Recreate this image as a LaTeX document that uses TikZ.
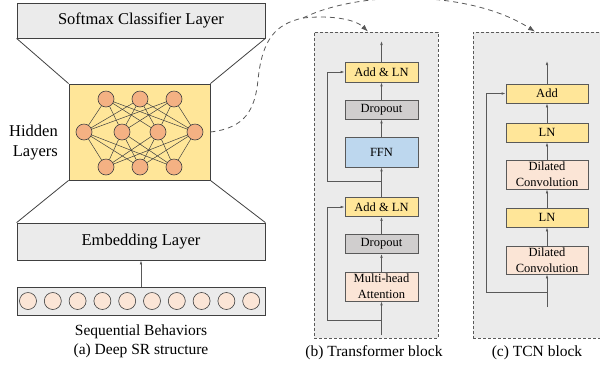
\documentclass[tikz,border=0pt]{standalone}
\usepackage{fontspec}
\setmainfont{Liberation Serif}
\usetikzlibrary{arrows.meta}

\definecolor{boxline}{HTML}{404040}
\definecolor{flowgray}{HTML}{595959}
\definecolor{layergray}{HTML}{EBEBEB}
\definecolor{hiddenyellow}{HTML}{FFE699}
\definecolor{neuronfill}{HTML}{F4B183}
\definecolor{peach}{HTML}{FBE5D6}
\definecolor{dropgray}{HTML}{D0CECE}
\definecolor{ffnblue}{HTML}{BDD7EE}

\begin{document}
\begin{tikzpicture}[x=1pt,y=1pt,yscale=-1,
  layerbox/.style={draw=boxline,fill=layergray,line width=0.8pt,inner sep=0pt,minimum width=248,font=\fontsize{16.5}{18}\selectfont},
  neuron/.style={circle,draw=boxline,fill=neuronfill,line width=0.6pt,inner sep=0pt,minimum size=16},
  token/.style={circle,draw=boxline,fill=peach,line width=0.6pt,inner sep=0pt,minimum size=17},
  netline/.style={draw=boxline,line width=0.5pt},
  blockbox/.style={draw=flowgray,fill=layergray,line width=0.8pt,dash pattern=on 3pt off 2pt,inner sep=0pt},
  unit/.style={draw=flowgray,line width=0.8pt,inner sep=0pt,align=center,font=\fontsize{12.5}{16}\selectfont},
  flow/.style={draw=flowgray,line width=0.7pt,-{Latex[length=4pt,width=2.6pt]}},
  link/.style={draw=flowgray,line width=0.8pt,dash pattern=on 5pt off 4pt},
  caption/.style={font=\fontsize{15.5}{18}\selectfont}
]
\useasboundingbox (0,0) rectangle (600,368);

%% (a) deep SR structure
\node[layerbox,minimum height=35] (softmax) at (141,20.5) {Softmax Classifier Layer};
\node[draw=boxline,fill=hiddenyellow,line width=0.8pt,inner sep=0pt,minimum width=141,minimum height=96] (hidden) at (139.5,132) {};
\node[layerbox,minimum height=37] (embed) at (141,241.5) {Embedding Layer};
\node[draw=boxline,fill=layergray,line width=0.8pt,inner sep=0pt,minimum width=248,minimum height=28] (seq) at (141,301) {};

%Straight Lines
\draw[boxline,line width=0.8pt] (softmax.south west) -- (hidden.north west);
\draw[boxline,line width=0.8pt] (softmax.south east) -- (hidden.north east);
\draw[boxline,line width=0.8pt] (hidden.south west) -- (embed.north west);
\draw[boxline,line width=0.8pt] (hidden.south east) -- (embed.north east);
\draw[flow] (seq.north) -- (embed.south);

% neurons
\foreach \x [count=\i] in {106,140,174} \node[neuron] (t\i) at (\x,99) {};
\foreach \x [count=\i] in {84,122,158,195} \node[neuron] (m\i) at (\x,132) {};
\foreach \x [count=\i] in {106,140,174} \node[neuron] (b\i) at (\x,167) {};
\foreach \i in {1,2,3} \foreach \j in {1,...,4} {
  \draw[netline] (t\i) -- (m\j);
  \draw[netline] (m\j) -- (b\i);
}

% behaviours
\foreach \i in {0,...,9} \node[token] (s\i) at ({28+24.8*\i},301) {};

% Text Node
\node[anchor=east,align=right,inner sep=0pt,font=\fontsize{16.5}{20}\selectfont] (hidlabel) at (58,143) {Hidden\\Layers};
\node[caption] (seqlabel) at (141,332) {Sequential Behaviors};
\node[caption] (capa) at (141,351) {(a) Deep SR structure};

%% (b) transformer block
\node[blockbox,minimum width=124,minimum height=306] (tfbox) at (376,185) {};
\node[unit,fill=hiddenyellow,minimum width=73,minimum height=20] (addln1) at (381.5,72) {Add \& LN};
\node[unit,fill=dropgray,minimum width=73,minimum height=19] (drop1) at (381.5,109.5) {Dropout};
\node[unit,fill=ffnblue,minimum width=73,minimum height=30] (ffn) at (381.5,152) {FFN};
\node[unit,fill=hiddenyellow,minimum width=73,minimum height=19] (addln2) at (381.5,207) {Add \& LN};
\node[unit,fill=dropgray,minimum width=73,minimum height=19] (drop2) at (381.5,244) {Dropout};
\node[unit,fill=peach,minimum width=73,minimum height=29] (mha) at (381.5,286.5) {Multi-head\\Attention};
\coordinate (tfout) at (381.5,41);
\coordinate (tfin) at (381.5,335);
\coordinate (tfres1) at (381.5,181);
\coordinate (tfres2) at (381.5,320);

\draw[flow] (tfin) -- (mha);
\draw[flow] (mha) -- (drop2);
\draw[flow] (drop2) -- (addln2);
\draw[flow] (addln2) -- (ffn);
\draw[flow] (ffn) -- (drop1);
\draw[flow] (drop1) -- (addln1);
\draw[flow] (addln1) -- (tfout);
\draw[flow] (tfres2) -| ([xshift=-17pt]addln2.west) -- (addln2.west);
\draw[flow] (tfres1) -| ([xshift=-17pt]addln1.west) -- (addln1.west);
\node[caption] (capb) at (374,353) {(b) Transformer block};

%% (c) TCN block
\node[blockbox,minimum width=130,minimum height=306] (tcnbox) at (538,185) {};
\node[unit,fill=hiddenyellow,minimum width=82,minimum height=19] (add) at (547,93.5) {Add};
\node[unit,fill=hiddenyellow,minimum width=82,minimum height=19] (ln1) at (547,132.5) {LN};
\node[unit,fill=peach,minimum width=82,minimum height=29] (dc1) at (547,174.5) {Dilated\\Convolution};
\node[unit,fill=hiddenyellow,minimum width=82,minimum height=19] (ln2) at (547,217.5) {LN};
\node[unit,fill=peach,minimum width=82,minimum height=28] (dc2) at (547,260) {Dilated\\Convolution};
\coordinate (tcnout) at (547,61);
\coordinate (tcnin) at (547,307);
\coordinate (tcnres) at (547,292);

\draw[flow] (tcnin) -- (dc2);
\draw[flow] (dc2) -- (ln2);
\draw[flow] (ln2) -- (dc1);
\draw[flow] (dc1) -- (ln1);
\draw[flow] (ln1) -- (add);
\draw[flow] (add) -- (tcnout);
\draw[flow] (tcnres) -| ([xshift=-19pt]add.west) -- (add.west);
\node[caption] (capc) at (537,353) {(c) TCN block};

%% dashed links
\coordinate (fork) at (303,18);
\draw[link] (hidden.east) .. controls (245,128) and (255,110) .. (258,80) .. controls (262,40) and (275,24) .. (fork);
\draw[link,-{Latex[length=7pt,width=5pt]}] (fork) .. controls (330,15) and (355,19) .. ([xshift=-8pt]tfbox.north);
\draw[link,-{Latex[length=7pt,width=5pt]}] (fork) .. controls (360,-10) and (470,-10) .. ([xshift=-3pt]tcnbox.north);
\end{tikzpicture}
\end{document}
